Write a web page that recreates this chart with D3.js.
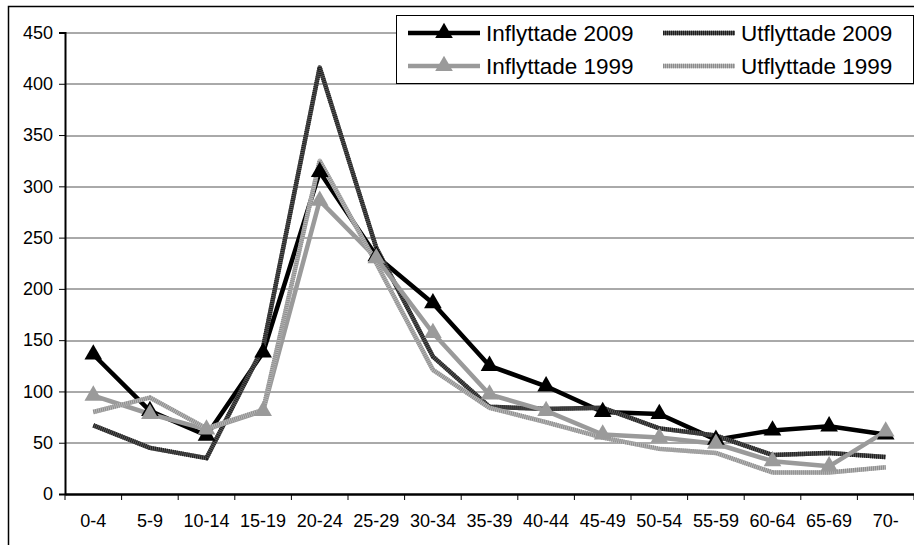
<!DOCTYPE html>
<meta charset="utf-8">
<style>
body { margin: 0; background: #fff; }
svg { font-family: "Liberation Sans", Arial, sans-serif; }
.axis text { font-size: 18px; fill: #000; }
.grid line { stroke: #555; stroke-width: 1; }
</style>
<svg width="914" height="545"></svg>
<script src="https://d3js.org/d3.v7.min.js"></script>
<script>

var ageGroups = ["0-4","5-9","10-14","15-19","20-24","25-29","30-34","35-39","40-44","45-49","50-54","55-59","60-64","65-69","70-"];

var inflyttade2009 = [136, 81, 57, 138, 314, 232, 186, 125, 105, 80, 78, 53, 62, 66, 58];
var utflyttade2009 = [67, 45, 35, 143, 416, 240, 134, 85, 83, 84, 64, 57, 38, 40, 36];
var inflyttade1999 = [96, 78, 63, 81, 286, 230, 157, 97, 81, 58, 55, 49, 32, 27, 61];
var utflyttade1999 = [80, 94, 64, 82, 325, 225, 121, 84, 70, 55, 44, 40, 21, 21, 26];

var yTicks = [0, 50, 100, 150, 200, 250, 300, 350, 400, 450];

var series = [
  {name: "Inflyttade 2009", values: inflyttade2009, color: "#000", stripe: null, marker: true},
  {name: "Utflyttade 2009", values: utflyttade2009, color: "#5a5a5a", stripe: "#1e1e1e", marker: false},
  {name: "Inflyttade 1999", values: inflyttade1999, color: "#9a9a9a", stripe: null, marker: true},
  {name: "Utflyttade 1999", values: utflyttade1999, color: "#b8b8b8", stripe: "#8c8c8c", marker: false}
];

var svg = d3.select("svg"),
    margin = {top: 32.5, right: 0, bottom: 51, left: 65},
    width = +svg.attr("width") - margin.left - margin.right,
    height = +svg.attr("height") - margin.top - margin.bottom;

// outer frame
svg.append("rect")
    .attr("x", 8.5).attr("y", 6.5)
    .attr("width", 920).attr("height", 560)
    .attr("fill", "none").attr("stroke", "#000").attr("stroke-width", 1.5);

var g = svg.append("g").attr("transform", "translate(" + margin.left + "," + margin.top + ")");

var x = d3.scaleBand().domain(ageGroups).range([0, width]);
var y = d3.scaleLinear().domain([0, 450]).range([height, 0]);

g.append("g")
    .attr("class", "grid")
  .selectAll("line")
  .data(yTicks.slice(1))
  .enter().append("line")
    .attr("x1", 0).attr("x2", width)
    .attr("y1", function(d) { return Math.round(y(d)) + 0.5; })
    .attr("y2", function(d) { return Math.round(y(d)) + 0.5; });

var yAxis = g.append("g")
    .attr("class", "axis")
    .call(d3.axisLeft(y).tickValues(yTicks).tickSize(6).tickPadding(6));
yAxis.select(".domain").attr("stroke-width", 2);

var xAxis = g.append("g")
    .attr("class", "axis")
    .attr("transform", "translate(0," + height + ")")
    .call(d3.axisBottom(x).tickSize(0).tickPadding(20));
xAxis.select(".domain").attr("stroke-width", 2.5);
xAxis.selectAll(".tick text").attr("dy", "0.71em");

// tick marks between categories
g.append("g")
  .selectAll("line")
  .data(ageGroups.concat([null]))
  .enter().append("line")
    .attr("x1", function(d, i) { return i * x.step(); })
    .attr("x2", function(d, i) { return i * x.step(); })
    .attr("y1", height).attr("y2", height + 6)
    .attr("stroke", "#000");

var line = d3.line()
    .x(function(d, i) { return x(ageGroups[i]) + x.bandwidth() / 2; })
    .y(function(d) { return y(d); });

var tri = d3.symbol().type(d3.symbolTriangle).size(135);

series.forEach(function(s) {
  g.append("path")
      .attr("d", line(s.values))
      .attr("fill", "none")
      .attr("stroke", s.color)
      .attr("stroke-width", 4.5)
      .attr("stroke-linejoin", "round");
  if (s.stripe) {
    g.append("path")
        .attr("d", line(s.values))
        .attr("fill", "none")
        .attr("stroke", s.stripe)
        .attr("stroke-width", 4.5)
        .attr("stroke-dasharray", "1,1");
  }
});

series.forEach(function(s) {
  if (!s.marker) return;
  g.append("g").selectAll("path")
    .data(s.values)
    .enter().append("path")
      .attr("d", tri)
      .attr("fill", s.color)
      .attr("transform", function(d, i) {
        return "translate(" + (x(ageGroups[i]) + x.bandwidth() / 2) + "," + y(d) + ")";
      });
});

// legend
var legend = svg.append("g").attr("transform", "translate(396,15)");
legend.append("rect")
    .attr("x", 0.5).attr("y", 0.5)
    .attr("width", 517).attr("height", 68)
    .attr("fill", "#fff").attr("stroke", "#000").attr("stroke-width", 1);

var legendPos = [[12, 18], [267, 18], [12, 51], [267, 51]];

series.forEach(function(s, i) {
  var lg = legend.append("g")
      .attr("transform", "translate(" + legendPos[i][0] + "," + legendPos[i][1] + ")");
  lg.append("line")
      .attr("x1", 0).attr("x2", 72)
      .attr("stroke", s.color).attr("stroke-width", 4.5);
  if (s.stripe) {
    lg.append("line")
        .attr("x1", 0).attr("x2", 72)
        .attr("stroke", s.stripe).attr("stroke-width", 4.5)
        .attr("stroke-dasharray", "1,1");
  }
  if (s.marker) {
    lg.append("path").attr("d", tri).attr("fill", s.color).attr("transform", "translate(36,0)");
  }
  lg.append("text")
      .attr("x", 78)
      .attr("dy", "0.36em")
      .attr("font-size", 22.5)
      .text(s.name);
});

</script>
